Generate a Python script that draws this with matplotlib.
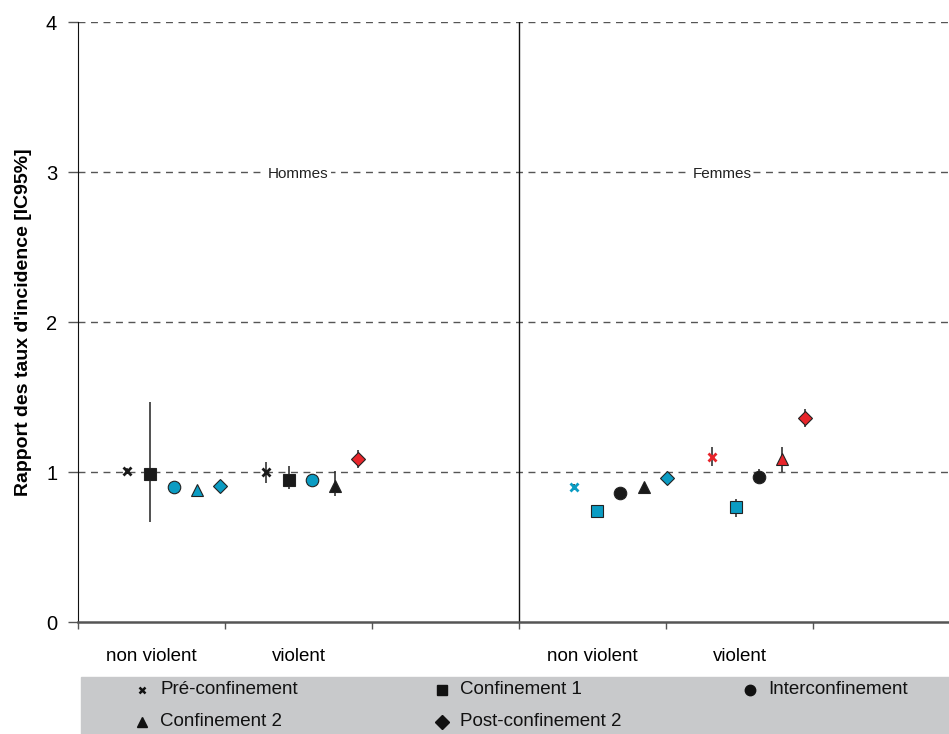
import matplotlib
matplotlib.use("Agg")
import matplotlib.pyplot as plt
from matplotlib.lines import Line2D
from matplotlib.patches import Rectangle

plt.rcParams['font.family'] = ['Liberation Sans Narrow', 'Liberation Sans', 'DejaVu Sans']

# --- data ---
periods = ["Pré-confinement", "Confinement 1", "Interconfinement",
           "Confinement 2", "Post-confinement 2"]
categories = ["non violent", "violent"]
sexes = ["Hommes", "Femmes"]

# rate ratio, 95% CI; sig: -1 lower, 0 not significant, +1 higher
hom_nv_est = [1.01, 0.99, 0.90, 0.88, 0.91]
hom_nv_lo = [0.99, 0.67, 0.88, 0.84, 0.89]
hom_nv_hi = [1.03, 1.47, 0.92, 0.91, 0.93]
hom_nv_sig = [0, 0, -1, -1, -1]

hom_v_est = [1.00, 0.95, 0.95, 0.91, 1.09]
hom_v_lo = [0.93, 0.89, 0.93, 0.84, 1.03]
hom_v_hi = [1.07, 1.04, 0.99, 1.01, 1.15]
hom_v_sig = [0, 0, -1, 0, 1]

fem_nv_est = [0.90, 0.74, 0.86, 0.90, 0.96]
fem_nv_lo = [0.88, 0.72, 0.84, 0.88, 0.94]
fem_nv_hi = [0.92, 0.77, 0.88, 0.92, 0.98]
fem_nv_sig = [-1, -1, 0, 0, -1]

fem_v_est = [1.10, 0.77, 0.97, 1.09, 1.36]
fem_v_lo = [1.04, 0.70, 0.94, 1.00, 1.30]
fem_v_hi = [1.17, 0.82, 1.02, 1.17, 1.42]
fem_v_sig = [1, -1, 0, 1, 1]

cells = [
    (hom_nv_est, hom_nv_lo, hom_nv_hi, hom_nv_sig),
    (hom_v_est, hom_v_lo, hom_v_hi, hom_v_sig),
    (fem_nv_est, fem_nv_lo, fem_nv_hi, fem_nv_sig),
    (fem_v_est, fem_v_lo, fem_v_hi, fem_v_sig),
]

# --- layout / style ---
centres = [0.65, 1.59, 3.69, 4.63]
step = 0.157
sig_colors = {-1: "#0b9cc3", 0: "#1a1a1a", 1: "#e8252b"}
markers = ["x", "s", "o", "^", "D"]
msizes = [6, 8.5, 9, 8.5, 7.5]

fig = plt.figure(figsize=(9.49, 7.34), dpi=100)
ax = fig.add_axes([78 / 949, (734 - 622) / 734, 882 / 949, 600 / 734])
ax.set_xlim(0, 6)
ax.set_ylim(0, 4)

for yv in [1, 2, 3, 4]:
    ax.axhline(yv, color="#555555", lw=1, ls=(0, (5, 4)), zorder=1)
ax.axvline(3, color="#111111", lw=1, zorder=1)

for c, (est, lo, hi, sig) in zip(centres, cells):
    for i in range(len(periods)):
        x = c + (i - 2) * step
        ax.vlines(x, lo[i], hi[i], color="#222222", lw=1.1, zorder=2)
        col = sig_colors[sig[i]]
        if markers[i] == "x":
            ax.plot(x, est[i], marker="x", ms=msizes[i], mew=2.0,
                    color=col, zorder=3, ls="none")
        else:
            ax.plot(x, est[i], marker=markers[i], ms=msizes[i],
                    mfc=col, mec="#222222", mew=0.8, zorder=3, ls="none")

ax.text(1.5, 2.99, sexes[0], ha="center", va="center", fontsize=11,
        color="#222222", bbox=dict(facecolor="white", edgecolor="none", pad=1.5), zorder=4)
ax.text(4.38, 2.99, sexes[1], ha="center", va="center", fontsize=11,
        color="#222222", bbox=dict(facecolor="white", edgecolor="none", pad=1.5), zorder=4)

for s in ["top", "right"]:
    ax.spines[s].set_visible(False)
ax.spines["left"].set_color("#111111")
ax.spines["bottom"].set_color("#555555")
ax.spines["bottom"].set_linewidth(1.8)

ax.set_yticks([0, 1, 2, 3, 4])
ax.tick_params(axis="y", length=7, width=1, color="#555555", labelsize=14.5, pad=8)
ax.set_xticks(range(0, 7))
ax.set_xticklabels([])
ax.tick_params(axis="x", which="major", length=5, width=1, color="#555555")
ax.set_xticks([0.5, 1.5, 3.5, 4.5], categories * 2, minor=True)
ax.tick_params(axis="x", which="minor", length=0, labelsize=13.5, pad=19)

ax.set_ylabel("Rapport des taux d'incidence [IC95%]", fontsize=14,
              fontweight="bold", labelpad=10)

# --- legend band ---
fig.patches.append(Rectangle((81 / 949, 0), (949 - 81) / 949, 57 / 734,
                             transform=fig.transFigure, color="#c8c9cb", zorder=0))
leg_pos = [(142, 690), (442, 690), (750, 690), (142, 722), (442, 722)]
leg_ms = [5, 6.5, 7.5, 6.5, 7.5]
for i, (px, py) in enumerate(leg_pos):
    fx, fy = px / 949, 1 - py / 734
    if markers[i] == "x":
        fig.add_artist(Line2D([fx], [fy], transform=fig.transFigure, marker="x",
                              ms=leg_ms[i], mew=1.8, color="#111111", ls="none"))
    else:
        fig.add_artist(Line2D([fx], [fy], transform=fig.transFigure, marker=markers[i],
                              ms=leg_ms[i], mfc="#111111", mec="#111111", ls="none"))
    fig.text(fx + 18 / 949, fy, periods[i], ha="left", va="center",
             fontsize=13.5, color="#111111")

fig.savefig("out.png", dpi=100)
